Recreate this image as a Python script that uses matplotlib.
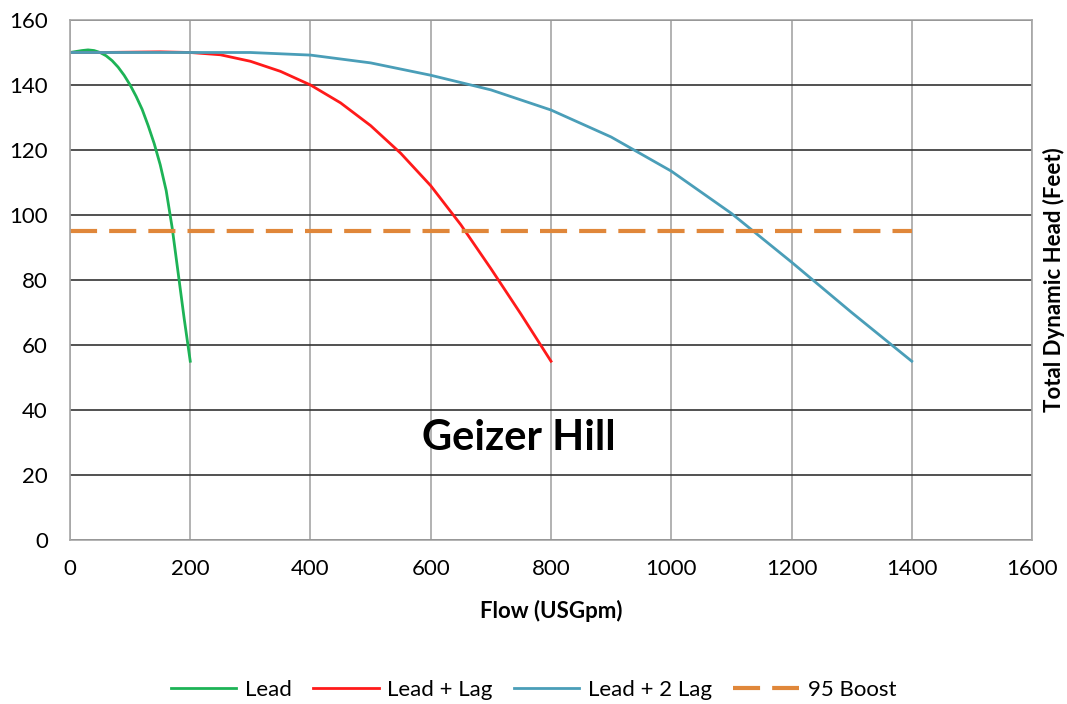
import numpy as np
import matplotlib.pyplot as plt

plt.rcParams['font.family'] = ['Lato', 'DejaVu Sans']

# pump curves (flow in USGpm, head in feet)
lead_flow = [0, 10, 20, 30, 40, 50, 60, 70, 80, 90, 100, 110, 120, 130, 140, 150, 160, 170, 180, 190, 200]
lead_head = [150, 150.3, 150.6, 150.8, 150.6, 150, 149, 147.5, 145.5, 143, 140, 136.5, 132.5, 127.5, 122, 115.5, 107.5, 96, 82, 68, 55]

lag_flow = [0, 50, 100, 150, 200, 250, 300, 350, 400, 450, 500, 550, 600, 650, 700, 750, 800]
lag_head = [150, 150, 150.1, 150.2, 150, 149.3, 147.3, 144.2, 140, 134.5, 127.5, 119, 109, 97, 83.5, 69.5, 55]

lag2_flow = [0, 100, 200, 300, 400, 500, 600, 700, 800, 900, 1000, 1100, 1200, 1300, 1400]
lag2_head = [150, 150, 150, 150, 149.2, 146.8, 143, 138.5, 132.3, 124, 113.5, 100.5, 85.5, 70, 55]

boost_flow = [0, 1400]
boost_head = [95, 95]

fig = plt.figure(figsize=(10.67, 7.04), dpi=100)
ax = fig.add_axes([0.0656, 0.233, 0.9016, 0.7386])

ax.plot(lead_flow, lead_head, color='#1DB356', lw=2, label='Lead')
ax.plot(lag_flow, lag_head, color='#FF1A1A', lw=2, label='Lead + Lag')
ax.plot(lag2_flow, lag2_head, color='#4A9EB8', lw=2, label='Lead + 2 Lag')
ax.plot(boost_flow, boost_head, color='#E0873A', lw=3, dashes=(6.5, 2.9), label='95 Boost')

ax.set_xlim(0, 1600)
ax.set_ylim(0, 160)
ax.set_xticks(np.arange(0, 1601, 200))
ax.set_yticks(np.arange(0, 161, 20))
ax.tick_params(labelsize=16, length=0)
ax.tick_params(axis='x', pad=14)
ax.tick_params(axis='y', pad=16)

ax.xaxis.grid(True, color='#A6A6A6', lw=1.2)
ax.yaxis.grid(True, color='#333333', lw=1.2)
ax.set_axisbelow(True)
for s in ax.spines.values():
    s.set_color('#A6A6A6')
    s.set_linewidth(1.2)

ax.set_xlabel('Flow (USGpm)', fontsize=16, fontweight='bold', labelpad=15)
ax.yaxis.set_label_position('right')
ax.set_ylabel('Total Dynamic Head (Feet)', fontsize=16, fontweight='bold', labelpad=8)

ax.text(747, 31.4, 'Geizer Hill', fontsize=30, fontweight='bold', ha='center', va='center')

fig.legend(loc='center', bbox_to_anchor=(0.5, 14 / 704), ncol=4, frameon=False,
           fontsize=16, handlelength=2.95, columnspacing=0.95, handletextpad=0.4)

fig.savefig('out.png', dpi=100)
